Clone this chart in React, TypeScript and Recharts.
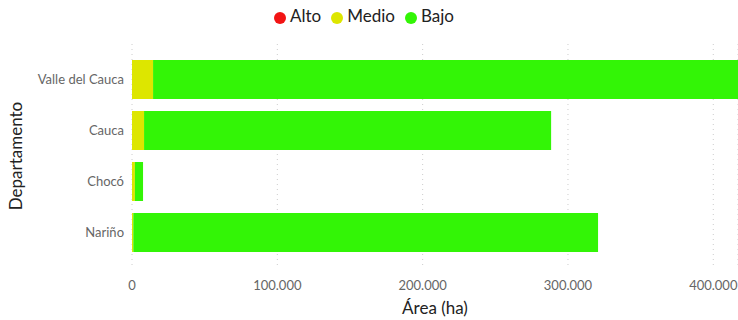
import { BarChart, Bar, XAxis, YAxis, CartesianGrid, Legend } from "recharts";

const departamentos = ["Valle del Cauca", "Cauca", "Chocó", "Nariño"];
const alto = [0, 0, 0, 0];
const medio = [14500, 8300, 2000, 900];
const bajo = [402500, 280100, 5600, 319800];
const xTicks = [0, 100000, 200000, 300000, 400000];

const data = departamentos.map((d, i) => ({
  departamento: d,
  Alto: alto[i],
  Medio: medio[i],
  Bajo: bajo[i],
}));

const fmt = (v: number) => String(v).replace(/\B(?=(\d{3})+(?!\d))/g, ".");

const font = "Lato, 'Open Sans', sans-serif";

export default function App() {
  return (
    <div style={{ fontFamily: font, position: "absolute", left: 0, top: 0 }}>
      <BarChart
        width={738}
        height={320}
        data={data}
        layout="vertical"
        margin={{ top: 23, right: 0, left: 0, bottom: 0 }}
      >
        <CartesianGrid horizontal={false} strokeDasharray="1 4" stroke="#cccccc" />
        <XAxis
          type="number"
          domain={[0, "dataMax"]}
          ticks={xTicks}
          tickFormatter={fmt}
          axisLine={false}
          tickLine={false}
          height={52}
          tickMargin={7}
          tick={{ fill: "#666", fontSize: 13 }}
          label={{ value: "Área (ha)", position: "insideBottom", offset: 6, fill: "#222", fontSize: 17 }}
        />
        <YAxis
          type="category"
          dataKey="departamento"
          width={132}
          axisLine={false}
          tickLine={false}
          padding={{ top: 10, bottom: 10 }}
          tick={{ fill: "#666", fontSize: 13 }}
          label={{ value: "Departamento", angle: -90, position: "insideLeft", offset: 16, fill: "#222", fontSize: 17, style: { textAnchor: "middle" } }}
        />
        <Legend
          verticalAlign="top"
          align="center"
          iconType="circle"
          iconSize={12}
          itemSorter={null}
          wrapperStyle={{ fontSize: 17, color: "#222", top: 5 }}
          formatter={(v: string) => <span style={{ color: "#222" }}>{v}</span>}
        />
        <Bar dataKey="Alto" stackId="a" fill="#f21414" barSize={39} isAnimationActive={false} />
        <Bar dataKey="Medio" stackId="a" fill="#dde600" barSize={39} isAnimationActive={false} />
        <Bar dataKey="Bajo" stackId="a" fill="#33f506" barSize={39} isAnimationActive={false} />
      </BarChart>
    </div>
  );
}
